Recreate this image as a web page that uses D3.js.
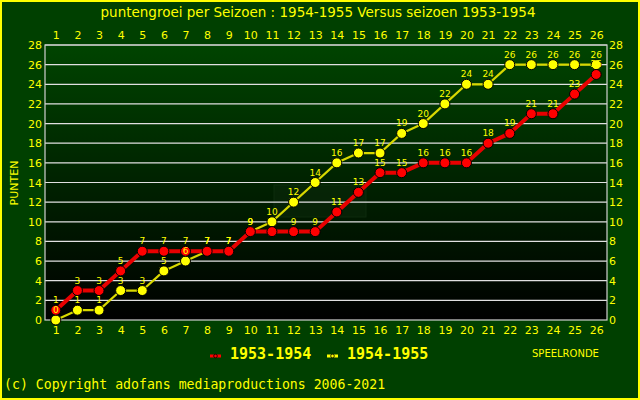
<!DOCTYPE html>
<html><head><meta charset="utf-8">
<script src="https://cdn.jsdelivr.net/npm/d3@7"></script>
<style>body{margin:0;background:#004000}svg{display:block}</style>
</head><body>
<svg id="c" width="640" height="400"></svg>
<script>
const rounds = d3.range(1, 27);
const series1953 = [1,3,3,5,7,7,7,7,7,9,9,9,9,11,13,15,15,16,16,16,18,19,21,21,23,25];
const series1955 = [0,1,1,3,3,5,6,7,7,9,10,12,14,16,17,17,19,20,22,24,24,26,26,26,26,26];
const yTicks = d3.range(0, 29, 2);
const title = "puntengroei per Seizoen : 1954-1955 Versus seizoen 1953-1954";

const svg = d3.select("#c");
const W = 640, H = 400;
const L = 45, R = 607, T = 45, B = 320;
const x = d3.scaleLinear().domain([0.5, 26.5]).range([L, R]);
const y = d3.scaleLinear().domain([0, 28]).range([B, T]);

svg.append("rect").attr("x",1).attr("y",1).attr("width",W-2).attr("height",H-2)
  .attr("fill","#004000").attr("stroke","#ffff00").attr("stroke-width",2);

const defs = svg.append("defs");
const g = defs.append("linearGradient").attr("id","bg").attr("x1",0).attr("y1",0).attr("x2",0).attr("y2",1);
g.append("stop").attr("offset","0%").attr("stop-color","#004400");
g.append("stop").attr("offset","100%").attr("stop-color","#000000");
svg.append("rect").attr("x",L).attr("y",T).attr("width",R-L).attr("height",B-T).attr("fill","url(#bg)");

// faint watermark box
svg.append("rect").attr("x",274).attr("y",185).attr("width",92).attr("height",32)
  .attr("fill","#0c2a0c").attr("opacity",0.5).attr("stroke","#1a3a1a");

// grid
svg.append("g").selectAll("line").data(yTicks.filter(d=>d>0)).join("line")
  .attr("x1",L).attr("x2",R).attr("y1",d=>y(d)).attr("y2",d=>y(d))
  .attr("stroke","#e0e0e0").attr("stroke-width",1.2);
svg.append("rect").attr("x",L).attr("y",T).attr("width",R-L).attr("height",B-T)
  .attr("fill","none").attr("stroke","#d0d0d0").attr("stroke-width",1.2);

const font = "DejaVu Sans";
svg.append("text").attr("x",318).attr("y",17).attr("text-anchor","middle")
  .attr("font-family",font).attr("font-size",13.5).attr("fill","#ffff00").text(title);

// axes
const axStyle = sel => { sel.select(".domain").remove(); sel.selectAll(".tick line").remove();
  sel.selectAll("text").attr("fill","#ffff00").attr("font-family",font).attr("font-size",11); };
svg.append("g").attr("transform",`translate(0,${T-4})`)
  .call(d3.axisTop(x).tickValues(rounds).tickFormat(d3.format("d")).tickSize(0).tickPadding(2)).call(axStyle);
svg.append("g").attr("transform",`translate(0,${B+4})`)
  .call(d3.axisBottom(x).tickValues(rounds).tickFormat(d3.format("d")).tickSize(0).tickPadding(2)).call(axStyle);
svg.append("g").attr("transform",`translate(${L-3},0)`)
  .call(d3.axisLeft(y).tickValues(yTicks).tickSize(0).tickPadding(0)).call(axStyle);
svg.append("g").attr("transform",`translate(${R+2},0)`)
  .call(d3.axisRight(y).tickValues(yTicks).tickSize(0).tickPadding(0)).call(axStyle);

svg.append("text").attr("transform","translate(18,183) rotate(-90)").attr("text-anchor","middle")
  .attr("font-family",font).attr("font-size",11).attr("fill","#ffff00").text("PUNTEN");

const line = d3.line().x((d,i)=>x(rounds[i])).y(d=>y(d));
function drawSeries(data, color, lw, lineColor){
  svg.append("path").datum(data).attr("d",line).attr("fill","none")
    .attr("stroke",lineColor).attr("stroke-width",lw).attr("stroke-linejoin","round");
  svg.append("g").selectAll("circle").data(data).join("circle")
    .attr("cx",(d,i)=>x(rounds[i])).attr("cy",d=>y(d)).attr("r",5)
    .attr("fill",color).attr("stroke","#000").attr("stroke-width",1);
}
function drawLabels(data){
  svg.append("g").selectAll("text").data(data).join("text")
    .attr("x",(d,i)=>x(rounds[i])).attr("y",d=>y(d)-7).attr("text-anchor","middle")
    .attr("font-family",font).attr("font-size",9).attr("fill","#ffff00").text(d=>d);
}
drawSeries(series1955, "#ffff00", 2.2, "#d8d800");
drawSeries(series1953, "#ff0000", 4, "#e80000");
drawLabels(series1953);
drawLabels(series1955);

// legend
const lg = svg.append("g");
lg.append("line").attr("x1",210).attr("x2",221).attr("y1",356).attr("y2",356).attr("stroke","#ff0000").attr("stroke-width",3);
lg.append("circle").attr("cx",215.5).attr("cy",356).attr("r",1.8).attr("fill","#ff0000").attr("stroke","#000").attr("stroke-width",0.8);
lg.append("text").attr("x",230).attr("y",359).attr("font-family","DejaVu Sans Mono").attr("font-weight","bold")
  .attr("font-size",15).attr("fill","#ffff00").text("1953-1954");
lg.append("line").attr("x1",327).attr("x2",338).attr("y1",356).attr("y2",356).attr("stroke","#ffff00").attr("stroke-width",3);
lg.append("circle").attr("cx",332.5).attr("cy",356).attr("r",1.8).attr("fill","#ffff00").attr("stroke","#000").attr("stroke-width",0.8);
lg.append("text").attr("x",347).attr("y",359).attr("font-family","DejaVu Sans Mono").attr("font-weight","bold")
  .attr("font-size",15).attr("fill","#ffff00").text("1954-1955");
svg.append("text").attr("x",532).attr("y",357).attr("font-family",font).attr("font-size",10)
  .attr("fill","#ffff00").text("SPEELRONDE");
svg.append("text").attr("x",4).attr("y",389).attr("font-family","DejaVu Sans Mono")
  .attr("font-size",13.2).attr("fill","#ffff00").text("(c) Copyright adofans mediaproductions 2006-2021");
</script>
</body></html>
